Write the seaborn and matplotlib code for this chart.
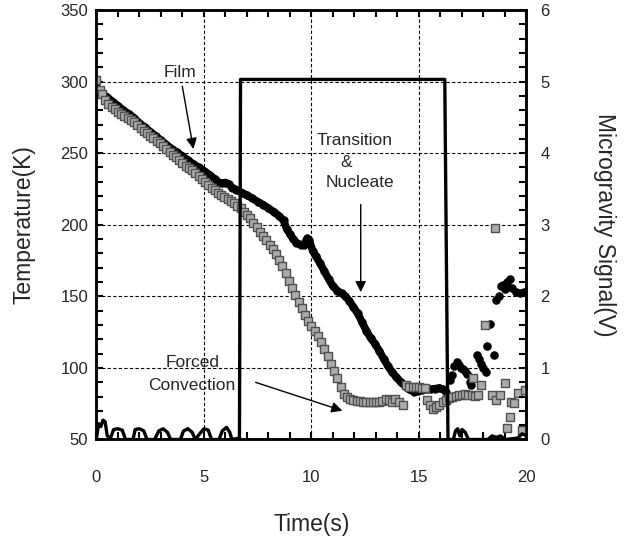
import numpy as np
import pandas as pd
import seaborn as sns
import matplotlib.pyplot as plt
from matplotlib.ticker import MultipleLocator

# black circles, continuous part (time s, temperature K)
film_t = [0.0, 0.25, 0.5, 0.75, 1.0, 1.25, 1.5, 1.75, 2.0, 2.25, 2.5, 2.75, 3.0, 3.25,
          3.5, 3.75, 4.0, 4.25, 4.5, 4.75, 5.0, 5.25, 5.5, 5.7, 5.85, 6.0, 6.15, 6.3,
          6.5, 6.75, 7.0, 7.25, 7.5, 7.75, 8.0, 8.25, 8.5, 8.7, 8.85, 9.0, 9.15, 9.3,
          9.5, 9.65, 9.8, 9.9, 10.05, 10.2, 10.4, 10.6, 10.8, 11.0, 11.2, 11.4, 11.55,
          11.75, 11.95, 12.15, 12.35, 12.55, 12.75, 12.95, 13.15, 13.35, 13.55, 13.75,
          13.95, 14.15, 14.35, 14.55, 14.75, 14.95, 15.15, 15.35, 15.55, 15.75, 15.95,
          16.1, 16.25]
film_T = [296, 292, 289, 286, 283, 280, 277.5, 274.5, 271, 268, 265, 262, 259, 256,
          253, 250.5, 248, 245, 242.5, 240, 237.5, 235, 232, 229.5, 229, 229.5, 228.5, 226,
          224.5, 222.5, 220.5, 218.5, 216, 214, 211.5, 209, 206, 203, 197, 193.5, 190, 187.5,
          186, 186, 190.5, 189, 182, 178, 173, 167.5, 162, 157, 154, 152, 150.5,
          147, 142.5, 138, 132, 126, 121, 117, 112, 106.5, 101.5, 97,
          93.5, 90, 87.5, 85, 83.5, 84, 84.5, 85, 85, 85.5, 86,
          85, 83.5]

# black circles, scattered after the signal drops
late_t = [16.45, 16.55, 16.65, 16.75, 16.85, 16.95, 17.05, 17.15, 17.25, 17.35, 17.4,
          17.7, 17.8, 17.9, 18.0, 18.1, 18.15, 18.3, 18.5, 18.6, 18.7, 18.8, 18.9, 19.0,
          19.1, 19.25, 19.35, 19.5, 19.7, 19.9]
late_T = [91.5, 95, 101, 104, 102, 100, 99, 98, 96, 90, 88,
          109, 106, 103, 100, 97, 115, 131, 109, 147.5, 150, 157, 158, 155,
          160, 162, 156, 153, 152, 153]

# gray squares
sq_t = [0.0, 0.15, 0.27, 0.4, 0.55, 0.7, 0.85, 1.0, 1.15, 1.3, 1.45, 1.6, 1.75, 1.9,
        2.05, 2.2, 2.35, 2.5, 2.65, 2.8, 2.95, 3.1, 3.25, 3.4, 3.55, 3.7, 3.85, 4.0,
        4.15, 4.3, 4.45, 4.6, 4.75, 4.9, 5.05, 5.2, 5.35, 5.5, 5.65, 5.8, 5.95, 6.1,
        6.25, 6.4, 6.55, 6.7, 6.85, 7.0, 7.15, 7.3, 7.45, 7.6, 7.75, 7.9, 8.05, 8.2,
        8.35, 8.5, 8.65, 8.8, 8.95, 9.1, 9.25, 9.4, 9.55, 9.7, 9.85, 10.0, 10.15, 10.3,
        10.45, 10.6, 10.75, 10.9, 11.05, 11.2, 11.35, 11.5, 11.65, 11.8, 11.95, 12.1,
        12.25, 12.4, 12.55, 12.7, 12.85, 13.0, 13.15, 13.3, 13.45, 13.6, 13.75, 13.9,
        14.05, 14.25,
        14.4, 14.55, 14.7, 14.85, 15.0, 15.15, 15.3,
        15.35, 15.5, 15.65, 15.8, 15.95, 16.1, 16.25, 16.4, 16.55, 16.7, 16.85, 17.0,
        17.15, 17.3, 17.45, 17.6, 17.75, 17.9, 17.5, 18.07, 18.53, 18.4, 18.6, 18.75,
        19.0, 19.3, 19.23, 19.1, 19.4, 19.6, 19.93, 19.8]
sq_T = [301, 294, 291, 287, 284, 282, 280.5, 279, 277.5, 276, 274.5, 273, 271.5, 269.5,
        267.5, 265.5, 264, 262, 260.5, 258.5, 257, 255, 253, 251, 249, 247, 245, 243,
        241, 239.5, 238, 236, 234, 232, 230, 228, 226, 224, 222.5, 221, 219.5, 218,
        216.5, 215, 213, 211.5, 209, 207, 204.5, 201.5, 198.5, 195, 192, 189, 186, 183,
        179.5, 175.5, 171, 166, 161, 156, 151, 146, 141.5, 137, 133, 129.5, 126, 122,
        118, 113.5, 108.5, 103, 98, 93, 87, 82, 79.5, 78.5, 77.5, 77,
        77, 76.5, 76.5, 76, 76, 76, 76.5, 77, 78, 77.5, 76.5, 78,
        76, 74,
        88, 87, 86.5, 87, 86.5, 86, 86,
        77.5, 74, 71, 72.5, 74, 76.5, 77.5, 79, 80, 80.5, 81, 81,
        81.5, 81, 81, 80.5, 81, 88, 93, 130, 198, 81, 77.5, 81,
        89.5, 76, 65.5, 58, 75.5, 82.5, 84.5, 56.5]

# microgravity signal (V)
sig_t = [0.0, 0.1, 0.2, 0.3, 0.4, 0.5, 0.65, 0.8, 1.0, 1.2, 1.35, 1.7, 1.8, 2.0, 2.2,
         2.35, 2.7, 2.9, 3.1, 3.3, 3.45, 3.9, 4.05, 4.25, 4.45, 4.6, 4.8, 5.0, 5.2,
         5.35, 5.7, 5.85, 6.05, 6.2, 6.3, 6.65, 6.7, 16.2, 16.35, 16.6, 16.7, 16.8,
         16.9, 17.0, 17.15, 17.3, 18.2, 18.4, 18.6, 18.8, 19.0, 19.6, 19.8, 20.0]
sig_V = [0.02, 0.22, 0.18, 0.27, 0.25, 0.05, 0.02, 0.14, 0.15, 0.13, 0.0, 0.0, 0.14, 0.15, 0.12,
         0.0, 0.0, 0.12, 0.15, 0.1, 0.0, 0.0, 0.12, 0.15, 0.1, 0.0, 0.08, 0.15, 0.13,
         0.0, 0.0, 0.12, 0.17, 0.1, 0.0, 0.02, 5.03, 5.03, 0.0, 0.0, 0.12, 0.15,
         0.05, 0.14, 0.1, 0.0, 0.0, 0.05, 0.03, 0.05, 0.0, 0.02, 0.08, 0.05]

film = pd.DataFrame({'t': film_t, 'T': film_T})
late = pd.DataFrame({'t': late_t, 'T': late_T})
squares = pd.DataFrame({'t': sq_t, 'T': sq_T})
signal = pd.DataFrame({'t': sig_t, 'V': sig_V})

sns.set_style('ticks', {'xtick.direction': 'in', 'ytick.direction': 'in'})
plt.rcParams['font.family'] = ['Liberation Sans', 'DejaVu Sans']
plt.rcParams['xtick.top'] = True

fig = plt.figure(figsize=(6.29, 5.37), dpi=100)
ax = fig.add_axes([0.1534, 0.1816, 0.6836, 0.7998])
ax2 = ax.twinx()

sns.lineplot(data=film, x='t', y='T', ax=ax, color='black', lw=5.5, marker='o',
             markersize=6, markeredgewidth=0, sort=False, zorder=3)
sns.scatterplot(data=late, x='t', y='T', ax=ax, color='black', marker='o', s=38,
                linewidth=0, zorder=3)
sns.scatterplot(data=squares, x='t', y='T', ax=ax, color='#ababab', marker='s', s=40,
                edgecolor='#505050', linewidth=1.0, zorder=4)
sns.lineplot(data=signal, x='t', y='V', ax=ax2, color='black', lw=2.4, sort=False)

ax.set_xlim(0, 20)
ax.set_ylim(50, 350)
ax2.set_ylim(0, 6)
ax.xaxis.set_major_locator(MultipleLocator(5))
ax.xaxis.set_minor_locator(MultipleLocator(1))
ax.yaxis.set_major_locator(MultipleLocator(50))
ax.yaxis.set_minor_locator(MultipleLocator(10))
ax2.yaxis.set_major_locator(MultipleLocator(1))
ax2.yaxis.set_minor_locator(MultipleLocator(0.2))

ax.grid(True, which='major', color='black', lw=0.8, ls=(0, (3, 2)))
ax.set_xlabel('Time(s)', fontsize=16.5, labelpad=20)
ax.set_ylabel('Temperature(K)', fontsize=16.5, labelpad=18)
ax2.set_ylabel('Microgravity Signal(V)', fontsize=16.5, rotation=270, labelpad=48)

ax.tick_params(axis='x', which='both', direction='in', length=5, width=1.5,
               top=True, bottom=True, color='black', labelsize=12, pad=22)
ax.tick_params(axis='y', which='both', direction='in', length=5, width=1.5,
               left=True, right=False, color='black', labelsize=12, pad=6)
ax2.tick_params(axis='y', which='both', direction='in', length=5, width=1.5,
                right=True, left=False, color='black', labelsize=12, pad=10)
for a in (ax, ax2):
    for sp in a.spines.values():
        sp.set_linewidth(1.8)
        sp.set_color('black')

arrow = dict(arrowstyle='-|>', color='black', lw=1, mutation_scale=16)
ax.annotate('Film', xy=(4.53, 251), xytext=(3.88, 301), fontsize=12.5,
            ha='center', va='bottom', arrowprops=arrow)
ax.annotate('', xy=(12.29, 151), xytext=(12.29, 216), arrowprops=arrow)
ax.text(12.02, 259, 'Transition', fontsize=12.5, ha='center', va='center')
ax.text(11.6, 243.5, '&', fontsize=12.5, ha='center', va='center')
ax.text(12.26, 229.5, 'Nucleate', fontsize=12.5, ha='center', va='center')
ax.annotate('', xy=(11.56, 69.5), xytext=(7.28, 90.5), arrowprops=arrow)
ax.text(4.49, 103.5, 'Forced', fontsize=12.5, ha='center', va='center')
ax.text(4.43, 88, 'Convection', fontsize=12.5, ha='center', va='center')

fig.savefig('out.png', dpi=100)
